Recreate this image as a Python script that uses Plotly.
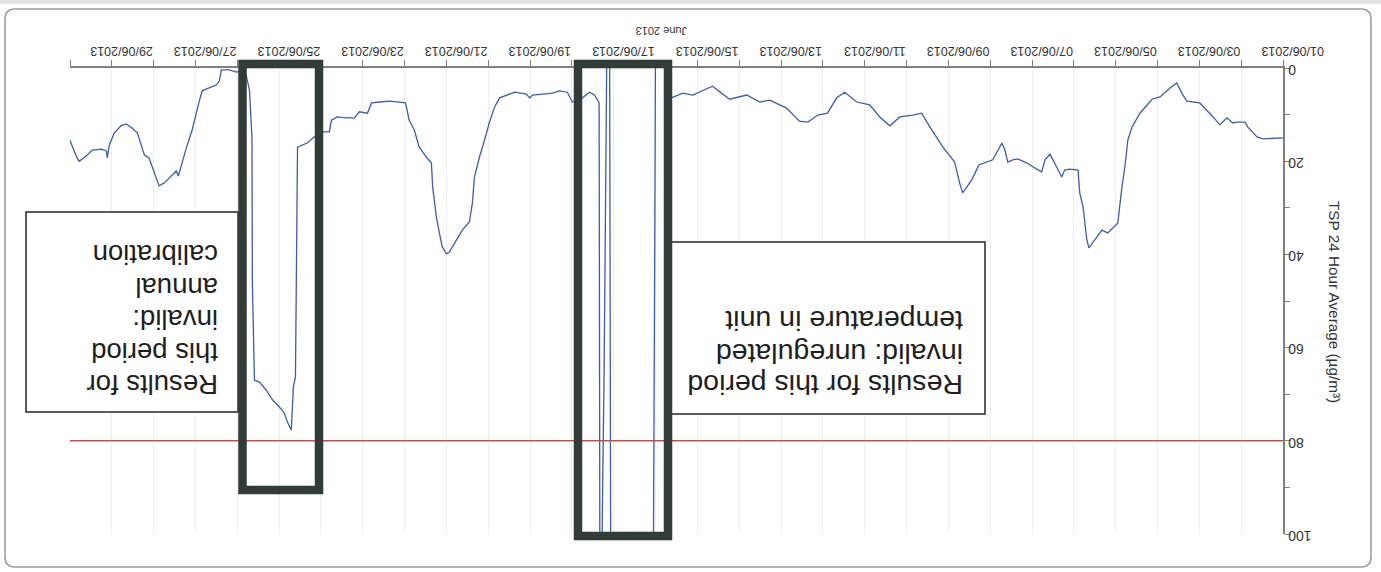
import pandas as pd
import plotly.graph_objects as go

# ---------------- data ----------------
START = "2013-06-01"
# time since 01/06/2013 00:00, in days
day_offset = [
    0.00, 0.48, 0.62, 0.84, 0.91, 1.10, 1.20, 1.34, 1.51, 1.67, 1.99, 2.30, 2.42, 2.54,
    2.70, 2.94, 3.13, 3.42, 3.61, 3.71, 3.78, 3.85, 3.95, 4.07, 4.19, 4.33, 4.50, 4.64,
    4.69, 4.78, 4.86, 4.90, 5.10, 5.22, 5.29, 5.41, 5.57, 5.69, 5.77, 5.98, 6.12, 6.34,
    6.46, 6.58, 6.65, 6.72, 6.77, 6.94, 7.27, 7.44, 7.66, 7.73, 7.85, 8.13, 8.44, 8.64,
    8.85, 9.16, 9.40, 9.64, 9.88, 10.19, 10.48, 10.67, 10.89, 11.12, 11.36, 11.56, 11.87,
    12.27, 12.51, 12.82, 13.23, 13.64, 14.11, 14.35, 14.62, 14.68, 14.74, 15.00, 15.02,
    15.06, 16.07, 16.10, 16.16, 16.18, 16.20, 16.23, 16.27, 16.30, 16.33, 16.35, 16.46,
    16.58, 16.75, 16.99, 17.11, 17.30, 17.46, 17.94, 18.01, 18.09, 18.37, 18.56, 18.73,
    18.85, 18.97, 19.09, 19.21, 19.33, 19.38, 19.45, 19.62, 19.76, 19.93, 20.00, 20.10,
    20.17, 20.24, 20.33, 20.36, 20.48, 20.65, 20.77, 20.89, 20.98, 21.12, 21.36, 21.60,
    21.79, 21.89, 22.08, 22.20, 22.39, 22.61, 22.75, 22.80, 22.99, 23.16, 23.33, 23.56,
    23.61, 23.66, 23.71, 23.80, 23.88, 24.00, 24.16, 24.31, 24.47, 24.59, 24.64, 24.65,
    24.67, 24.71, 24.78, 24.83, 25.02, 25.19, 25.38, 25.43, 25.50, 25.67, 25.84, 25.91,
    26.08, 26.22, 26.34, 26.41, 26.46, 26.58, 26.75, 26.87, 26.99, 27.11, 27.22, 27.30,
    27.39, 27.54, 27.66, 27.78, 27.94, 28.06, 28.11, 28.13, 28.25, 28.47, 28.61, 28.78,
    28.83, 28.95, 29.00,
]
tsp_24h = [
    15.0, 15.2, 14.8, 12.7, 11.6, 11.6, 11.8, 10.7, 12.2, 10.5, 7.5, 7.1, 5.4, 3.2,
    4.3, 6.2, 6.7, 9.7, 12.7, 15.5, 21.2, 25.5, 33.3, 34.3, 35.4, 34.8, 36.9, 38.6,
    36.9, 29.8, 26.8, 21.9, 21.7, 21.9, 23.4, 21.2, 18.5, 19.7, 22.3, 21.2, 20.4, 19.5,
    19.7, 20.2, 17.6, 16.1, 17.0, 19.7, 20.8, 24.0, 26.8, 24.7, 20.2, 17.0, 12.7, 9.7,
    10.1, 10.5, 12.4, 10.5, 7.9, 7.3, 5.2, 6.4, 9.7, 10.1, 11.6, 11.4, 8.6,
    6.9, 7.3, 5.8, 6.7, 3.9, 5.8, 5.4, 6.4, 6.8, -10.0, -10.0, 38.0,
    120.0, 120.0, -10.0, -10.0, 13.9, 42.7, 64.8, 93.3, 120.0, 120.0, 7.5, 5.8,
    5.2, 6.4, 7.3, 5.2, 4.9, 5.4, 5.8, 6.4, 5.6, 5.2, 5.8, 6.4,
    8.4, 11.6, 15.5, 19.1, 23.4, 29.0, 33.0, 34.8, 36.9, 39.5, 39.9, 38.4,
    35.4, 32.0, 25.5, 20.4, 19.1, 17.0, 13.3, 11.2, 7.5, 7.3, 7.1, 7.3,
    7.5, 9.7, 9.4, 10.7, 10.7, 10.5, 11.2, 13.7, 13.7, 14.8, 16.1, 17.0,
    66.3, 68.5, 77.7, 76.0, 74.0, 72.7, 71.2, 69.1, 67.4, 67.0, 46.1, 14.8,
    10.5, 4.7, 1.9, 0.4, 0.9, 0.4, 0.4, 2.8, 3.6, 4.3, 4.9, 7.1,
    13.3, 17.2, 21.0, 23.2, 22.1, 23.2, 24.7, 25.3, 22.1, 19.3, 18.7, 16.5,
    13.9, 12.7, 12.0, 12.4, 13.9, 16.5, 19.3, 17.8, 17.4, 17.6, 18.9, 20.0,
    19.3, 16.7, 15.5,
]
LIMIT = 80  # TSP 24 hour criterion (µg/m³)

x_range = ["2013-06-30", "2013-06-01"]
y_range = [100, 0]
y_tickvals = [0, 20, 40, 60, 80, 100]
y_ticklabels = ["0", "20", "40", "60", "80", "100"]

note_calibration = ["Results for", "this period", "invalid:", "annual", "calibration"]
note_temperature = ["Results for this period", "invalid: unregulated", "temperature in unit"]
x_title = "June 2013"
y_title = "TSP 24 Hour Average (µg/m³)"

# ---------------- figure ----------------
times = pd.Timestamp(START) + pd.to_timedelta(day_offset, unit="D")

# pad the upside-down y labels with no-break spaces so their digits line up
# next to the axis (two NBSP are one digit wide in Arial)
longest = max(len(t) for t in y_ticklabels)
y_ticktext = ["\u00a0" * (2 * (longest - len(t))) + t for t in y_ticklabels]

W, H = 1381, 572
ML, MR, MT, MB = 70, 98, 68, 38
PW, PH = W - ML - MR, H - MT - MB


def px(x):
    return (x - ML) / PW


def py(y):
    return (H - MB - y) / PH


FONT = "Arial, Liberation Sans, sans-serif"

fig = go.Figure()
fig.add_trace(go.Scatter(
    x=times, y=tsp_24h, mode="lines",
    line=dict(color="#3f5ca8", width=1.3),
    showlegend=False, hoverinfo="skip",
))

fig.add_hline(y=LIMIT, line_color="#c0504d", line_width=1.6, layer="above")

shapes = []
# outer rounded frame
x0, y0, x1, y1, r = 5, 9, 1371, 567, 10
path = (f"M {px(x0 + r)},{py(y0)} L {px(x1 - r)},{py(y0)} Q {px(x1)},{py(y0)} {px(x1)},{py(y0 + r)} "
        f"L {px(x1)},{py(y1 - r)} Q {px(x1)},{py(y1)} {px(x1 - r)},{py(y1)} "
        f"L {px(x0 + r)},{py(y1)} Q {px(x0)},{py(y1)} {px(x0)},{py(y1 - r)} "
        f"L {px(x0)},{py(y0 + r)} Q {px(x0)},{py(y0)} {px(x0 + r)},{py(y0)} Z")
shapes.append(dict(type="path", xref="paper", yref="paper", path=path,
                   line=dict(color="#9a9a9a", width=1.5), layer="below"))
# faint scan strip at the top
shapes.append(dict(type="line", xref="paper", yref="paper", x0=px(0), x1=px(W), y0=py(2), y1=py(2),
                   line=dict(color="#e2e2e2", width=4)))
# note boxes
for (a, b, c, d) in [(26, 212, 238, 412), (670, 242, 985, 414)]:
    shapes.append(dict(type="rect", xref="paper", yref="paper",
                       x0=px(a), x1=px(c), y0=py(b), y1=py(d),
                       line=dict(color="#262626", width=1.5), fillcolor="white", layer="above"))
# thick highlight boxes
for (a, b, c, d) in [(242.5, 64, 319, 490), (578, 64, 668, 536)]:
    shapes.append(dict(type="rect", xref="paper", yref="paper",
                       x0=px(a), x1=px(c), y0=py(b), y1=py(d),
                       line=dict(color="#333d38", width=8.5), layer="above"))
for s in shapes:
    fig.add_shape(**s)

ann = []
ann.append(dict(text=x_title, x=px(662), y=py(31), textangle=180,
                font=dict(size=11, color="#333333", family=FONT)))
ann.append(dict(text=y_title, x=px(1335), y=py(302), textangle=90,
                font=dict(size=15.3, color="#333333", family=FONT)))
for i, line in enumerate(note_calibration):
    ann.append(dict(text=line, x=px(220), y=py(385 - i * 32.5), xanchor="right", yanchor="middle",
                    textangle=180, font=dict(size=27.5, color="#1e1e1e", family=FONT)))
for i, line in enumerate(note_temperature):
    ann.append(dict(text=line, x=px(965), y=py(385 - i * 31.7), xanchor="right", yanchor="middle",
                    textangle=180, font=dict(size=28.5, color="#1e1e1e", family=FONT)))
for a in ann:
    a.setdefault("xanchor", "center")
    a.setdefault("yanchor", "middle")
    fig.add_annotation(xref="paper", yref="paper", showarrow=False, **a)

DAY = 86400000
fig.update_layout(
    width=W, height=H,
    margin=dict(l=ML, r=MR, t=MT, b=MB, pad=0, autoexpand=False),
    paper_bgcolor="white", plot_bgcolor="white",
    font=dict(family=FONT, color="#333333"),
    xaxis=dict(
        type="date", range=x_range, side="top", automargin=False,
        tick0=START, dtick=2 * DAY, tickformat="%d/%m/%Y", tickangle=180,
        tickfont=dict(size=12.5, color="#333333"),
        ticks="outside", ticklen=6, tickcolor="#808080", tickwidth=1,
        ticklabelstandoff=-4, ticklabelshift=-41,
        showline=True, linecolor="#808080", linewidth=1.5,
        showgrid=True, gridcolor="#efefef", gridwidth=1,
        minor=dict(dtick=DAY, ticks="outside", ticklen=6, tickcolor="#808080",
                   showgrid=True, gridcolor="#efefef"),
        zeroline=False, fixedrange=True,
    ),
    yaxis=dict(
        range=y_range, side="right", tickmode="array",
        tickvals=y_tickvals, ticktext=y_ticktext, tickangle=180, automargin=False,
        tickfont=dict(size=14, color="#333333"),
        ticks="outside", ticklen=6, tickcolor="#808080",
        ticklabelstandoff=18, ticklabelshift=-6,
        showline=True, linecolor="#808080", linewidth=1.5,
        showgrid=False, zeroline=False,
        minor=dict(tickvals=[10, 30, 50, 70, 90], ticks="outside", ticklen=5, tickcolor="#808080"),
        fixedrange=True,
    ),
)

fig.write_html(
    "out.html",
    config={"displayModeBar": False},
    post_script="document.body.style.margin='0px';document.body.style.overflow='hidden';",
)
